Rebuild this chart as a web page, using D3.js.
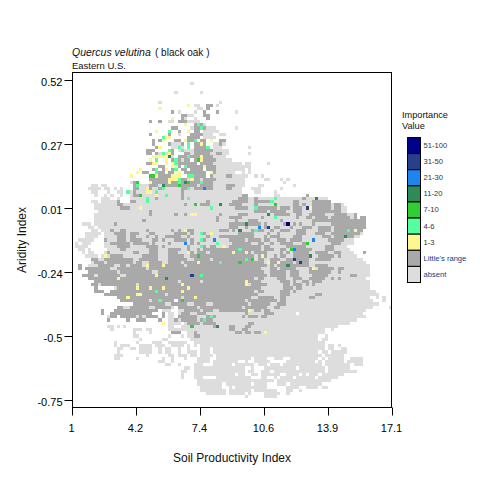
<!DOCTYPE html>
<html><head><meta charset="utf-8">
<script src="https://cdn.jsdelivr.net/npm/d3@7/dist/d3.min.js"></script>
<style>html,body{margin:0;padding:0;background:#fff}svg{display:block}text{font-family:"Liberation Sans",Arial,sans-serif}</style>
</head><body><svg id="c" width="480" height="480"></svg>
<script>
const xTicks=[1,4.22,7.44,10.66,13.88,17.1];
const xTickLabels=["1","4.2","7.4","10.6","13.9","17.1"];
const yTicks=[0.52,0.266,0.012,-0.242,-0.496,-0.75];
const yTickLabels=["0.52","0.27","0.01","-0.24","-0.5","-0.75"];
const legendLabels=["51-100","31-50","21-30","11-20","7-10","4-6","1-3","Little's range","absent"];
const legendColors=["#00008B","#27408B","#1C86EE","#2E8B57","#32CD32","#54FF9F","#FFF68F","#A9A9A9","#DDDDDD"];
// grid rows: [row, "column runs"]
const absentRows=[
[3,"37"],[6,"32 40"],[9,"27 46"],[10,"38-39 45"],[11,"39-40"],[12,"33 38 51"],[13,"36-37"],[14,"35 38"],[15,"30-31 36-39"],[16,"41"],[17,"37 42-44 51"],[18,"41-45"],[19,"33 41-43 46-47"],[20,"41-44"],[21,"46-47"],[22,"31-33 44-47"],[23,"31-34 44-46 55"],[24,"33-37 44-48"],[25,"27-30 37 43-48 55"],[26,"30-31 44-47"],[27,"34 45-49"],[28,"44-52 54-55 61"],[29,"44-53 54-55"],[30,"45-53 55"],[31,"44-50 53 55"],[32,"44-54 57 59"],[33,"29-53 60-61 65 67"],[34,"18-20 24-53 66"],[35,"6-7 9-10 19-53 58-59 69"],[36,"5-8 10-11 13 15 19-52 56-58 65"],[37,"6-7 11 14-15 18-52 57-58 63"],[38,"7 10 12 15 18-54 63-64"],[39,"9-11 14 18-79"],[40,"6-7 9-14 18-80"],[41,"7-13 15-84"],[42,"7-85"],[43,"8-85"],[44,"7-87"],[45,"7-87"],[46,"7-91"],[47,"3-5 7-91"],[48,"5-6 8-91"],[49,"6-7 9-90"],
[50,"4-8 10-90"],[51,"4-7 10-89"],[52,"2-6 10-87"],[53,"1 3-5 10-87"],[54,"1-4 10-85"],[55,"2-3 5 11-86"],[56,"3 5-6 10-87"],[57,"4-7 9-88"],[58,"6-90"],[59,"6-91"],[60,"2 5-92"],[61,"2 4-92"],[62,"5-92"],[63,"3-92"],[64,"5-91"],[65,"7-92"],[66,"6-92"],[67,"7 13-92"],[68,"7-9 12-94"],[69,"10-95"],[70,"14-92 95 97"],[71,"15-31 33-93 97"],[72,"19-95"],[73,"14-31 33-93 99"],[74,"9 13-26 28-30 33-91"],[75,"9 12-24 28 30-31 33-69 71-90"],[76,"11-13 15-26 28 30-31 33-91"],[77,"11 17 20-22 27 30-88"],[78,"30-33 35-86"],[79,"11-12 14 16 30-31 34-82"],[80,"12 19-21 23-24 30-78 81"],[81,"19 24 36-78"],[82,"19-20 30 34 36-76 79"],[83,"21 28-29 37-76 78-79"],[84,"13 20 25-27 30-35 38-78"],[85,"13 15-17 21-24 26-28 31-34 36 38 40-78 80-81 83"],[86,"14-15 18-19 21-24 27 29-30 33 36 40-42 44-78 80-81 84-85"],[87,"14 21-24 27 29-30 33 36-38 40-42 44-76 78-79 81-85"],[88,"13-15 23 30-31 33-35 37-38 40-43 45-77 79-84"],[89,"13-14 20 28 31 35 39-42 45-55 57-60 63-65 68-76 78 80-84 87-90"],[90,"27-28 31 39-42 44-51 54 57-61 67-75 77 79-84 86-90"],[91,"29-30 33 38-40 44-49 51-56 58-60 62-64 66-77 79-81 82-86 88-90"],[92,"35-36 38-53 56 60-69 71-78 80-86"],[93,"34-35 38-53 55-56 59-61 63-78 80-85 86-88"],[94,"34 38-50 52-53 56-57 59-64 67-70 72 74-76 78-84"],[95,"34 38-40 45-55 59-60 63 65-68 70-75 77-82"],[96,"39-62 64-80"],[97,"39-46 48-55 57-60 64-66 68-77"],[98,"40-46 49 51-60 67-70 73-76 78-79"],[99,"40-47 49-55 57-63 67-68 71"],[100,"42-47 49-53 55 60-64 67"],[101,"54 60-63"]
];
const rangeRows=[
[10,"42-43"],[11,"42"],[12,"31 41 45"],[13,"34-35 41-42"],[14,"34 42"],[15,"24 27 33-35"],[16,"38-40"],[17,"31-32 38-39 41"],[18,"33 38-39"],[19,"24 30 37-40"],[20,"29 36-39"],[21,"25 27 32-33 36-38 40-41 46-47"],[22,"25 30 34 38-41 46"],[23,"26 38-42"],[24,"23-25 31 38-43"],[25,"23-24 26 31 35-36 38-42 45-46"],[26,"29 33-35 37-43"],[27,"26 31-33 35-36 38-44"],[28,"23-25 33-38 40-43"],[29,"27-28 33 36-40 42-44"],[30,"25 28 31 34-35 37-40 42-44"],[31,"22-23 26-28 30-31 35-41 43-44"],[32,"25-30 38-41 43 48-49"],[33,"24-29 34-35 38-39 41-44"],[34,"19-20 25-29 31-32 34 37-43"],[35,"19-20 24-26 29-32 34-38 40-43 48-50"],[36,"19-20 23-24 27-28 34-35 38-40 42-43 48-49"],[37,"19 34"],[38,"19-20 34 53-54 73"],[39,"26 34 52-54 57 72"],[40,"14 18-19 42 50-54 57-61 69-70 75-80"],[41,"14-15 35 40-42 49-52 57 63 69-70 72 75-80 82-83"],[42,"15-17 51-54 58-63 65-67 69-71 75-80 82-83"],[43,"24 57-60 62-66 69-71 75-81 82-83"],[44,"24 32 35 46 52-54 63-67 70-71 74-78 82-85 88"],[45,"45 49-52 59 70 73-74 76-79 81-86 88 90-91"],[46,"22 45 51 55-57 65 75-80 81-88 89-91"],[47,"13 49-53 55-58 60 66 69 71 75 81-91"],[48,"49-51 54 60 63-64 68 72-74 77-80 82-91"],[49,"12 15-16 23 31 33 36-37 46-48 50 56-59 62 65-67 70-72 77-80 82-90"],
[50,"13-16 18-20 24-25 32-35 37 41 52-56 61 64 70-72 76-78 81-89"],[51,"14-16 18-19 23 26 29-33 36 42 46-56 60 62-64 69-71 78-80 82-84 86-87"],[52,"10 14-16 18-21 25-26 28 32-35 37 41 49-53 55-58 60-61 64-66 68-71 75 80-84"],[53,"12-17 19-23 25 30 37 39 50-55 58-59 62 65-68 72 81-83"],[54,"14-17 23-26 28 36 41 43-44 49-58 60-61 67-72 79-81"],[55,"15-16 24-26 30-33 36 39 41-58 60-62 65-66 70-74 79-81"],[56,"11 19-20 24-26 30-32 37 39-41 43-55 57-60 65 67 69-73 76-79 82-83 91"],[57,"12-15 22-26 30-34 37-38 40-56 58-60 63 65-66 69-73 77-81 83"],[58,"6-7 10-18 21-26 30-35 38-42 44-56 58-59 62-64 67-73 76-80"],[59,"7-9 11-18 20-21 24-27 30-33 35-38 40-59 61-63 65-68 70-73"],[60,"2 8-12 15-16 18-21 24-27 29-34 36-60 62 64-66 68-73 76-79"],[61,"2 4-11 14-22 24-28 29-58 62-63 65-69 74-75 77-81 83-84"],[62,"5-13 15-24 27-33 34-59 62-66 68-70 74-80 83"],[63,"3-6 8-14 17-25 27-36 38-39 41-60 62-66 68-70 75-79 87-88"],[64,"5-13 15-28 30-56 58-59 64-66 69-71 74-78 81 83"],[65,"7-32 34-39 41-58 65-67 69 72-73 75-77"],[66,"6-7 9-19 21-33 35-54 56-60 66-67 69-71 73 75"],[67,"7 14-58 66-68 70-71"],[68,"7-9 12-56 58-59 65-67 69"],[69,"10-28 30-57 65-67 76-77"],[70,"14-33 35-55 58-62 65-66 74-75"],[71,"15-23 25-26 28-31 33 35-53 55-63 65-66"],[72,"19-28 31-35 38-41 44-54 56-61 64-66"],[73,"14-15 18-23 26-30 33-38 40-52 54-60 63-64"],[74,"9 13-17 18-26 35-39 41-43 46-54 57-58 60-61"],[75,"9 12-24 28 34-36 39-41 54 60-62"],[76,"12-13 15-19 21 23-26 28 33-38 42-44 53 55-57 59-60"],[77,"11 17 20-22 27 32 34-38 40 42-43"],[78,"36-39 41-44 55-56"],[79,"44 49-50 54-55"],[80,"49-50 53-54"],[81,"31-33 38 51-52 54-55 57-58 60"],[82,"38-39"]
];
// importance cells by class: [column,row]
const iv1to3=[[36,10],[27,11],[31,14],[35,16],[26,18],[36,18],[29,20],[30,20],[28,21],[35,21],[43,21],[40,22],[27,23],[28,25],[30,25],[25,26],[26,26],[27,26],[28,26],[29,26],[40,26],[24,27],[29,27],[40,27],[25,28],[26,28],[29,28],[31,28],[32,28],[31,29],[32,29],[41,29],[21,30],[29,30],[20,31],[33,31],[43,31],[18,32],[26,32],[31,32],[32,32],[33,32],[31,33],[32,33],[30,33],[37,33],[30,34],[24,34],[23,36],[23,37],[24,37],[26,38],[21,42],[37,44],[38,44],[35,49],[74,42],[88,49],[43,50],[47,54],[36,56],[10,57],[39,59],[23,60],[28,60],[26,63],[14,64],[34,66],[20,67],[24,67],[28,67],[36,67],[34,68],[20,69],[21,69],[17,70],[38,70],[28,78],[50,56],[54,56],[59,57],[61,59],[64,59],[75,61],[54,66],[54,65],[55,74],[60,81]];
const iv4to6=[[39,16],[40,17],[30,18],[28,20],[38,21],[36,22],[36,23],[33,23],[42,23],[34,24],[30,24],[28,25],[36,26],[26,27],[32,27],[32,28],[35,29],[26,30],[26,31],[32,30],[36,32],[37,32],[33,33],[33,34],[40,34],[20,35],[28,36],[36,36],[26,37],[17,37],[29,38],[23,39],[23,40],[36,39],[43,42],[63,39],[62,40],[57,42],[63,45],[57,49],[86,49],[40,50],[40,52],[45,53],[40,54],[46,59],[40,63],[26,68],[27,71],[43,76],[41,77],[52,55],[54,58]];
const iv7to10=[[39,27],[24,32],[25,32],[20,34],[36,34],[33,35],[21,38],[38,41],[63,41],[39,57],[34,71],[37,79],[73,53],[68,55],[56,58],[52,59]];
const iv11to20=[[30,26],[35,34],[28,35],[46,41],[76,39],[61,44],[54,47],[52,49],[29,64],[45,79],[85,51],[74,57],[67,60]];
const iv21to30=[[41,36],[58,48],[44,52],[35,53],[75,52],[69,55]];
const iv31to50=[[73,42],[61,48],[37,63],[69,58],[71,59]];
const iv51to100=[[67,47]];

const svg=d3.select("#c");
const color=d3.scaleOrdinal(legendLabels,legendColors);
const x=d3.scaleLinear([1,17.1],[72,392]);
const y=d3.scaleLinear([0.52,-0.75],[80,400]);
const colToX=d3.scaleLinear([0,100],[1,17.1]);
const rowToY=d3.scaleLinear([2.5,102.5],[0.52,-0.75]);
const px=i=>Math.round(x(colToX(i)));
const py=j=>Math.round(y(rowToY(j)));
const parse=rows=>rows.flatMap(([j,s])=>s.split(" ").flatMap(t=>{const [a,b]=t.split("-").map(Number);return d3.range(a,(b===undefined?a:b)+1).map(i=>[i,j]);}));
const g=svg.append("g").attr("shape-rendering","crispEdges");
function draw(cells,label){
  g.append("g").selectAll("rect").data(cells).join("rect")
   .attr("x",d=>px(d[0])).attr("y",d=>py(d[1]))
   .attr("width",d=>px(d[0]+1)-px(d[0])).attr("height",d=>py(d[1]+1)-py(d[1]))
   .attr("fill",color(label));
}
draw(parse(absentRows),"absent");
draw(parse(rangeRows),"Little's range");
[[iv1to3,"1-3"],[iv4to6,"4-6"],[iv7to10,"7-10"],[iv11to20,"11-20"],[iv21to30,"21-30"],[iv31to50,"31-50"],[iv51to100,"51-100"]].forEach(([c,l])=>draw(c,l));

svg.append("rect").attr("x",72.5).attr("y",72.5).attr("width",319).attr("height",335).attr("fill","none").attr("stroke","#000");
const ax=svg.append("g").attr("transform","translate(0,407.5)").call(d3.axisBottom(x).tickValues(xTicks).tickSize(8).tickFormat((d,i)=>xTickLabels[i]));
ax.select(".domain").remove();
ax.selectAll("text").attr("y",17).attr("dx",-1).attr("font-size",11).style("font-family",'"Liberation Sans"').attr("fill","#000");
const ay=svg.append("g").attr("transform","translate(72.5,0)").call(d3.axisLeft(y).tickValues(yTicks).tickSize(8).tickFormat((d,i)=>yTickLabels[i]));
ay.select(".domain").remove();
ay.selectAll("text").attr("x",-10).attr("dy","0.52em").attr("font-size",11).style("font-family",'"Liberation Sans"').attr("fill","#000");

svg.append("text").attr("x",72).attr("y",56).attr("font-size",10.5).attr("font-style","italic").attr("fill","#111").text("Quercus velutina");
svg.append("text").attr("x",155).attr("y",56).attr("font-size",10).attr("fill","#111").text("( black oak )");
svg.append("text").attr("x",72).attr("y",69).attr("font-size",9.5).attr("fill","#111").text("Eastern U.S.");
svg.append("text").attr("x",232).attr("y",462).attr("text-anchor","middle").attr("font-size",12).attr("fill","#111").text("Soil Productivity Index");
svg.append("text").attr("transform","translate(26,240) rotate(-90)").attr("text-anchor","middle").attr("font-size",12).attr("fill","#111").text("Aridity Index");
svg.append("text").attr("x",402).attr("y",118).attr("font-size",9.2).attr("fill","#111").text("Importance");
svg.append("text").attr("x",402).attr("y",129).attr("font-size",9.2).attr("fill","#111").text("Value");
const ly=d3.scaleBand(legendLabels,[137,282]);
const lg=svg.append("g").selectAll("g").data(legendLabels).join("g").attr("transform",d=>`translate(0,${ly(d)})`);
lg.append("rect").attr("x",407.5).attr("y",0.5).attr("width",13).attr("height",ly.bandwidth()).attr("fill",d=>color(d)).attr("stroke","#000");
lg.append("text").attr("x",423.5).attr("y",11).attr("font-size",7.6).attr("fill",d=>(d==="absent"||d==="Little's range")?"#0b3f8f":"#333").text(d=>d);
</script></body></html>
